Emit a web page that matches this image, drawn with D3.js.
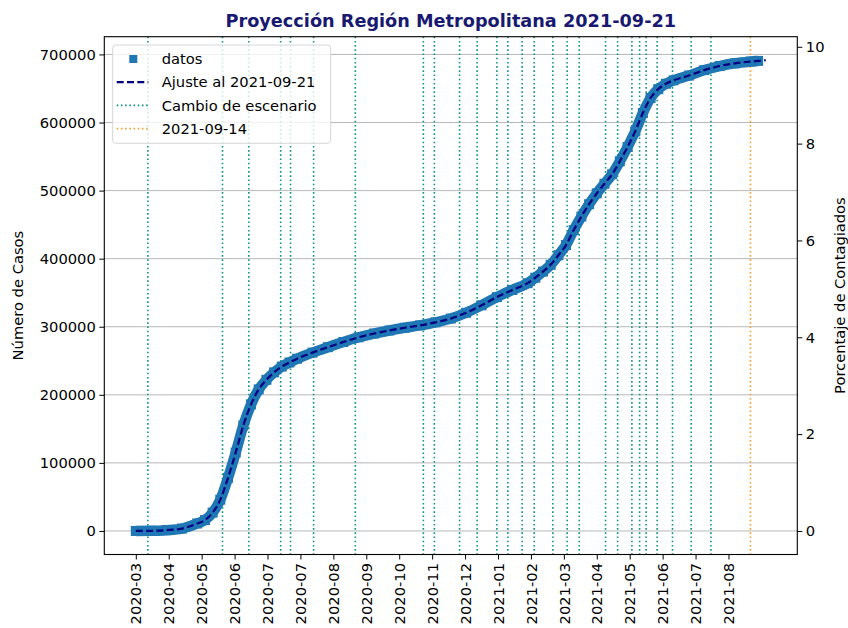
<!DOCTYPE html>
<html>
<head>
<meta charset="utf-8">
<script src="https://cdn.jsdelivr.net/npm/d3@7"></script>
<style>
  body { margin: 0; background: #fff; }
  text { font-family: "DejaVu Sans", sans-serif; }
</style>
</head>
<body>
<div id="chart"></div>
<script>
// data
var fechas = ["2020-03-03", "2020-03-17", "2020-03-31", "2020-04-14", "2020-04-28", "2020-05-05",
    "2020-05-12", "2020-05-19", "2020-05-26", "2020-06-02", "2020-06-09", "2020-06-16", "2020-06-23",
    "2020-06-30", "2020-07-07", "2020-07-14", "2020-07-21", "2020-07-28", "2020-08-11", "2020-08-25",
    "2020-09-08", "2020-09-22", "2020-10-06", "2020-10-20", "2020-11-03", "2020-11-17", "2020-12-01",
    "2020-12-15", "2020-12-29", "2021-01-12", "2021-01-26", "2021-02-09", "2021-02-23", "2021-03-02",
    "2021-03-09", "2021-03-16", "2021-03-23", "2021-03-30", "2021-04-06", "2021-04-13", "2021-04-20",
    "2021-04-27", "2021-05-04", "2021-05-11", "2021-05-18", "2021-05-25", "2021-06-01", "2021-06-08",
    "2021-06-15", "2021-06-22", "2021-06-29", "2021-07-06", "2021-07-20", "2021-08-03", "2021-08-17",
    "2021-08-31", "2021-09-14", "2021-09-21"];
var casos = [0, 200, 1200, 3500, 11000, 16000, 27000, 46000, 78000, 115000, 155000, 186000, 208000,
    222000, 233000, 241500, 247500, 253000, 262000, 270000, 277500, 284500, 290000, 294500, 298500,
    302000, 306500, 312000, 320500, 331500, 343500, 354000, 364000, 372000, 381000, 391000, 405000,
    420000, 442000, 462000, 480000, 496000, 510000, 524000, 543000, 564000, 587000, 614000, 636000,
    649000, 657000, 662000, 669000, 677000, 683000, 687000, 689500, 690500];
// the fit runs one week past the last data point
var proyeccionFechas = ["2021-09-28"];
var proyeccionCasos = [691500];

var cambiosEscenario = ["2020-03-14", "2020-05-21", "2020-06-14", "2020-07-13", "2020-07-22",
    "2020-08-12", "2020-09-19", "2020-11-20", "2020-11-30", "2020-12-23", "2021-01-08", "2021-01-26",
    "2021-02-05", "2021-02-18", "2021-03-01", "2021-03-18", "2021-03-31", "2021-04-11", "2021-05-05",
    "2021-05-16", "2021-05-29", "2021-06-05", "2021-06-11", "2021-06-21", "2021-07-05", "2021-07-22",
    "2021-08-09"];
var fechaReferencia = "2021-09-14";

var tickFechas = ["2020-03-03", "2020-04-02", "2020-05-02", "2020-06-01", "2020-07-01", "2020-07-31",
    "2020-08-30", "2020-09-29", "2020-10-29", "2020-11-28", "2020-12-28", "2021-01-27", "2021-02-26",
    "2021-03-28", "2021-04-27", "2021-05-27", "2021-06-26", "2021-07-26", "2021-08-25"];
var yTicks = [0, 100000, 200000, 300000, 400000, 500000, 600000, 700000];
var pctTicks = [0, 2, 4, 6, 8, 10];
var poblacion = 7112808;

var parse = d3.utcParse("%Y-%m-%d");
var datos = fechas.map(function (f, i) { return { fecha: parse(f), casos: casos[i] }; });
var ajuste = fechas.concat(proyeccionFechas).map(function (f, i) {
    return { fecha: parse(f), casos: casos.concat(proyeccionCasos)[i] };
});

var W = 848, H = 628;
var pL = 104.3, pR = 797.3, pT = 36.7, pB = 554.5;

var svg = d3.select("#chart").append("svg")
    .attr("width", W)
    .attr("height", H);

// matplotlib style 5% margins
function pad(ext) {
    var m = (ext[1] - ext[0]) * 0.05;
    return [ext[0] - m, ext[1] + m];
}
var xExt = d3.extent(ajuste, function (d) { return +d.fecha; });
var x = d3.scaleUtc()
    .domain(pad(xExt).map(function (v) { return new Date(v); }))
    .range([pL, pR]);
var yDom = pad([d3.min(casos), d3.max(casos.concat(proyeccionCasos))]);
var y = d3.scaleLinear().domain(yDom).range([pB, pT]);
var yPct = d3.scaleLinear()
    .domain(yDom.map(function (v) { return v / poblacion * 100; }))
    .range([pB, pT]);

// horizontal grid
svg.append("g")
    .selectAll("line")
    .data(yTicks)
    .enter().append("line")
    .attr("x1", pL).attr("x2", pR)
    .attr("y1", function (d) { return y(d); })
    .attr("y2", function (d) { return y(d); })
    .attr("stroke", "#b0b0b0")
    .attr("stroke-width", 0.9);

// scenario changes
svg.append("g")
    .selectAll("line")
    .data(cambiosEscenario)
    .enter().append("line")
    .attr("x1", function (d) { return x(parse(d)); })
    .attr("x2", function (d) { return x(parse(d)); })
    .attr("y1", pT).attr("y2", pB)
    .attr("stroke", "#0e9488")
    .attr("stroke-width", 1.6)
    .attr("stroke-dasharray", "1.6,2.6");

svg.append("line")
    .attr("x1", x(parse(fechaReferencia)))
    .attr("x2", x(parse(fechaReferencia)))
    .attr("y1", pT).attr("y2", pB)
    .attr("stroke", "#f5a030")
    .attr("stroke-width", 1.6)
    .attr("stroke-dasharray", "1.6,2.6");

var line = d3.line()
    .x(function (d) { return x(d.fecha); })
    .y(function (d) { return y(d.casos); })
    .curve(d3.curveMonotoneX);

// datos: dense square markers drawn as a thick band
svg.append("path")
    .datum(datos)
    .attr("d", line)
    .attr("fill", "none")
    .attr("stroke", "#1f77b4")
    .attr("stroke-width", 10.5)
    .attr("stroke-linejoin", "round");
svg.append("g")
    .selectAll("rect")
    .data(datos)
    .enter().append("rect")
    .attr("x", function (d) { return x(d.fecha) - 5; })
    .attr("y", function (d) { return y(d.casos) - 5; })
    .attr("width", 10)
    .attr("height", 10)
    .attr("fill", "#1f77b4");

svg.append("path")
    .datum(ajuste)
    .attr("d", line)
    .attr("fill", "none")
    .attr("stroke", "#000080")
    .attr("stroke-width", 2.2)
    .attr("stroke-dasharray", "7,3.3");

// frame
svg.append("rect")
    .attr("x", pL).attr("y", pT)
    .attr("width", pR - pL).attr("height", pB - pT)
    .attr("fill", "none")
    .attr("stroke", "#000")
    .attr("stroke-width", 1.1);

// axes
var fmtMes = d3.utcFormat("%Y-%m");
var xAxis = svg.append("g")
    .attr("transform", "translate(0," + pB + ")")
    .call(d3.axisBottom(x)
        .tickValues(tickFechas.map(parse))
        .tickFormat(fmtMes)
        .tickSize(5)
        .tickPadding(3.5));
xAxis.selectAll("text")
    .attr("transform", "rotate(-90)")
    .attr("text-anchor", "end")
    .attr("dy", "0.35em")
    .attr("x", -8.5)
    .attr("y", 0);

var yAxis = svg.append("g")
    .attr("transform", "translate(" + pL + ",0)")
    .call(d3.axisLeft(y).tickValues(yTicks).tickFormat(d3.format("d")).tickSize(5).tickPadding(3.5));

var pAxis = svg.append("g")
    .attr("transform", "translate(" + pR + ",0)")
    .call(d3.axisRight(yPct).tickValues(pctTicks).tickFormat(d3.format("d")).tickSize(5).tickPadding(3.5));

[xAxis, yAxis, pAxis].forEach(function (a) {
    a.select(".domain").remove();
    a.selectAll("text").attr("font-size", "14.7px").attr("fill", "#000")
        .style("font-family", "DejaVu Sans, sans-serif");
    a.selectAll("line").attr("stroke", "#000").attr("stroke-width", 1);
});

// labels
svg.append("text")
    .attr("x", (pL + pR) / 2)
    .attr("y", 27)
    .attr("text-anchor", "middle")
    .attr("font-size", "17.7px")
    .attr("font-weight", "bold")
    .attr("fill", "#191970")
    .text("Proyección Región Metropolitana 2021-09-21");

svg.append("text")
    .attr("transform", "translate(23," + (pT + pB) / 2 + ") rotate(-90)")
    .attr("text-anchor", "middle")
    .attr("font-size", "14.7px")
    .text("Número de Casos");

svg.append("text")
    .attr("transform", "translate(845," + (pT + pB) / 2 + ") rotate(-90)")
    .attr("text-anchor", "middle")
    .attr("font-size", "14.7px")
    .text("Porcentaje de Contagiados");

// legend
var lg = svg.append("g").attr("transform", "translate(112.7,45)");
lg.append("rect")
    .attr("width", 218).attr("height", 98.3)
    .attr("rx", 3)
    .attr("fill", "#fff").attr("fill-opacity", 0.8)
    .attr("stroke", "#d6d6d6");
var items = [
    { label: "datos", tipo: "square" },
    { label: "Ajuste al 2021-09-21", tipo: "line", color: "#000080", dash: "7,3.3", w: 2.2 },
    { label: "Cambio de escenario", tipo: "line", color: "#0e9488", dash: "1.6,2.6", w: 1.6 },
    { label: fechaReferencia, tipo: "line", color: "#f5a030", dash: "1.6,2.6", w: 1.6 }
];
items.forEach(function (it, i) {
    var cy = 14 + i * 23.2;
    if (it.tipo === "square") {
        lg.append("rect").attr("x", 16.6).attr("y", cy - 4).attr("width", 8).attr("height", 8)
            .attr("fill", "#1f77b4");
    } else {
        lg.append("line").attr("x1", 4).attr("x2", 35.6).attr("y1", cy).attr("y2", cy)
            .attr("stroke", it.color).attr("stroke-width", it.w).attr("stroke-dasharray", it.dash);
    }
    lg.append("text").attr("x", 49).attr("y", cy).attr("dy", "0.35em")
        .attr("font-size", "14.7px").text(it.label);
});
</script>
</body>
</html>
